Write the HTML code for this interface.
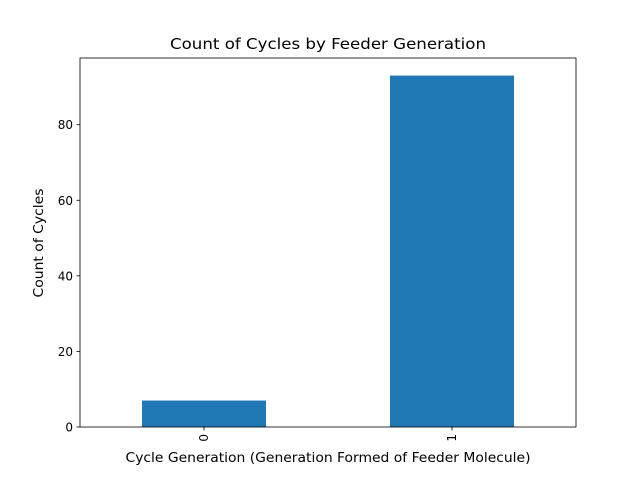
<!DOCTYPE html>
<html><head><meta charset="utf-8"><style>body{margin:0;background:#fff}svg{display:block;font-family:"DejaVu Sans","Liberation Sans",sans-serif}</style></head>
<body>
<svg width="640" height="480">
<rect width="640" height="480" fill="#fff"/>
<g id="bars"></g>
<g id="yticks"></g>
<g id="xticks"></g>
<rect x="80" y="58" width="496" height="369" fill="none" stroke="#000" stroke-width="0.8"/>
<text x="328" y="49" font-size="15.5" text-anchor="middle" textLength="316" lengthAdjust="spacingAndGlyphs">Count of Cycles by Feeder Generation</text>
<text x="328" y="462" font-size="13" text-anchor="middle" textLength="405" lengthAdjust="spacingAndGlyphs">Cycle Generation (Generation Formed of Feeder Molecule)</text>
<text transform="translate(43,243) rotate(-90)" font-size="13" text-anchor="middle" textLength="109" lengthAdjust="spacingAndGlyphs">Count of Cycles</text>
</svg>
<script>
const categories = ["0", "1"];
const counts = [7, 93];
const yTicks = [0, 20, 40, 60, 80];
const L=80,R=576,T=58,B=427;
const yMax=Math.max(...counts)*1.05;
const y=v=>B-v/yMax*(B-T);
const step=(R-L)/categories.length;
const x=i=>L+step*(i+0.5);
const NS="http://www.w3.org/2000/svg";
function mk(tag,attrs,parent,txt){const e=document.createElementNS(NS,tag);for(const k in attrs)e.setAttribute(k,attrs[k]);if(txt!==undefined)e.textContent=txt;document.getElementById(parent).appendChild(e);return e;}
counts.forEach((c,i)=>{
  const bw=step*0.5;
  const r=mk('rect',{x:x(i)-bw/2,y:y(c),width:bw,height:B-y(c),fill:'#1f77b4'},'bars');
  
  
  const t=mk('line',{x1:x(i),x2:x(i),y1:B,y2:B+3.5,stroke:'#000','stroke-width':0.8},'xticks');
  
  
  const l=mk('text',{transform:`translate(${x(i)+4},${B+7}) rotate(-90)`,'font-size':12,'text-anchor':'end'},'xticks',categories[i]);
  
  
});
yTicks.forEach(v=>{
  const t=mk('line',{x1:L-3.5,x2:L,y1:y(v),y2:y(v),stroke:'#000','stroke-width':0.8},'yticks');
  
  
  const l=mk('text',{x:L-7,y:y(v)+4.5,'font-size':12,'text-anchor':'end'},'yticks',v);
  
  
});
</script>
</body></html>
